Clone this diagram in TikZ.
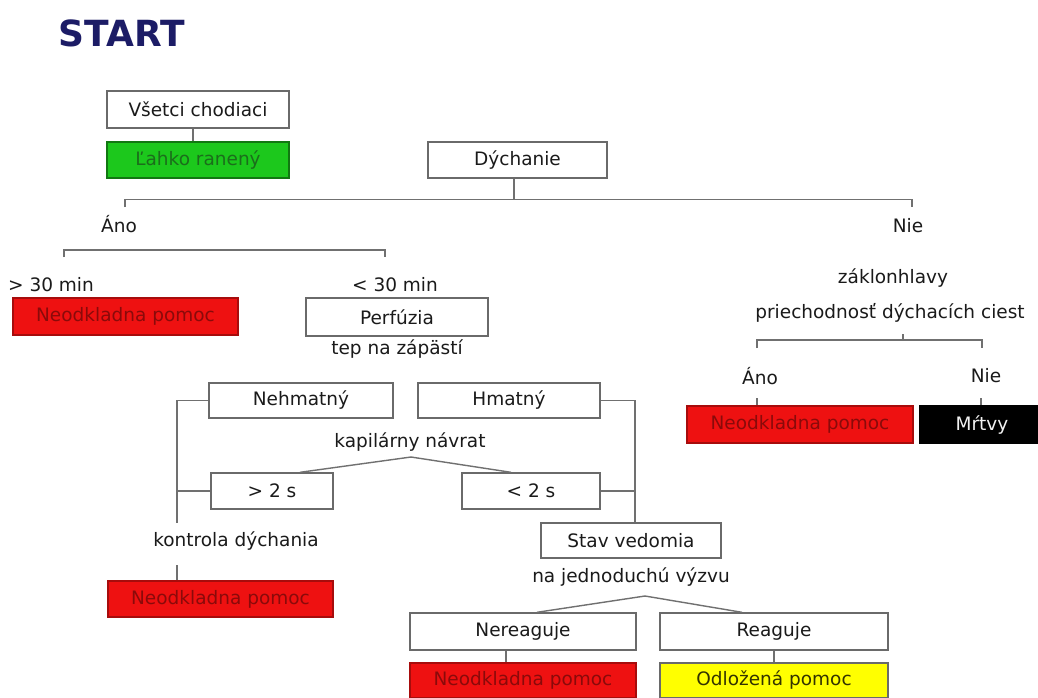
\documentclass[tikz,border=0pt]{standalone}
\usepackage{fontspec}
\setmainfont{DejaVu Sans}
\newcommand\dfont{\fontsize{18.5}{22}\selectfont}
\newcommand\tfont{\fontsize{36}{40}\selectfont\bfseries}
\definecolor{boxgray}{HTML}{6A6A6A}
\definecolor{linegray}{HTML}{707070}
\definecolor{txt}{HTML}{1A1A1A}
\definecolor{navy}{HTML}{1C1C66}
\definecolor{boxred}{HTML}{EE1111}
\definecolor{redtxt}{HTML}{8A0A0A}
\definecolor{boxgreen}{HTML}{1CC81C}
\definecolor{greentxt}{HTML}{1B6E1B}
\definecolor{boxyellow}{HTML}{FFFF00}
\definecolor{yellowtxt}{HTML}{333300}
\tikzset{
  box/.style={draw=boxgray, line width=1.4pt, fill=white, inner sep=0pt, font=\dfont, text=txt},
  redbox/.style={box, fill=boxred, text=redtxt, draw=boxred!70!black},
  greenbox/.style={box, fill=boxgreen, text=greentxt, draw=boxgreen!60!black},
  yellowbox/.style={box, fill=boxyellow, text=yellowtxt, draw=boxgray},
  blackbox/.style={box, fill=black, text=white!90!gray, draw=black},
  lbl/.style={inner sep=0pt, font=\dfont, text=txt},
  conn/.style={draw=linegray, line width=1.4pt},
}
\begin{document}
\begin{tikzpicture}[x=1pt,y=-1pt]
\useasboundingbox[fill=white] (0,0) rectangle (1038,697);

\node[inner sep=0pt, font=\tfont, text=navy] (start) at (122,33) {START};

% top-left
\node[box, minimum width=182, minimum height=37] (vs) at (198,109.5) {Všetci chodiaci};
\node[greenbox, minimum width=182, minimum height=36] (lr) at (198,160) {Ľahko ranený};
\draw[conn] ([xshift=-5pt]vs.south) -- ([xshift=-5pt]lr.north);

% Dychanie
\node[box, minimum width=179, minimum height=36] (dy) at (517.5,160) {Dýchanie};
\node[lbl] (ano1) at (119,224) {Áno};
\node[lbl] (nie1) at (908,226) {Nie};
\coordinate (b1L) at (125,207);
\coordinate (b1R) at (912,207);
\draw[conn] ([xshift=-3.5pt]dy.south) -- ++(0,21.5);
\draw[conn] (b1L) -- ++(0,-7.5) -| (b1R);

% Ano branch
\coordinate (b2L) at (64,257);
\coordinate (b2R) at (385,257);
\draw[conn] (b2L) -- ++(0,-7) -| (b2R);
\node[lbl] (gt30) at (51,285) {> 30 min};
\node[lbl] (lt30) at (395,285) {< 30 min};
\node[redbox, minimum width=225, minimum height=37] (red1) at (125.5,316.5) {Neodkladna pomoc};
\node[box, minimum width=182, minimum height=38] (perf) at (397,317) {Perfúzia};
\node[lbl] (tep) at (397,349) {tep na zápästí};

\node[box, minimum width=184, minimum height=35] (neh) at (301,400.5) {Nehmatný};
\node[box, minimum width=182, minimum height=35] (hm) at (509,400.5) {Hmatný};
\node[lbl] (kap) at (410,442) {kapilárny návrat};
\node[box, minimum width=122, minimum height=36] (gt2) at (272,491) {> 2 s};
\node[box, minimum width=138, minimum height=36] (lt2) at (531,491) {< 2 s};
\coordinate (apex1) at (411,457);
\draw[conn] (gt2.north -| 300,0) -- (apex1) -- (lt2.north -| 511,0);

% left column
\coordinate (lv) at (177,523);
\draw[conn] (neh.west) -| (lv);
\draw[conn] (gt2.west) -- (gt2.west -| lv);
\node[lbl] (kd) at (236,541) {kontrola dýchania};
\node[redbox, minimum width=225, minimum height=36] (red2) at (220.5,599) {Neodkladna pomoc};
\draw[conn] (177,565) -- (red2.north -| 177,0);

% right column
\node[box, minimum width=180, minimum height=35] (stav) at (631,540.5) {Stav vedomia};
\node[lbl] (jed) at (631,577) {na jednoduchú výzvu};
\draw[conn] (hm.east) -| (stav.north -| 635,0);
\draw[conn] (lt2.east) -- (lt2.east -| 635,0);

\node[box, minimum width=226, minimum height=37] (nere) at (523,631.5) {Nereaguje};
\node[box, minimum width=228, minimum height=37] (rea) at (774,631.5) {Reaguje};
\coordinate (apex2) at (645,596);
\draw[conn] (nere.north -| 537,0) -- (apex2) -- (rea.north -| 742,0);
\node[redbox, minimum width=226, minimum height=35] (red4) at (523,680.5) {Neodkladna pomoc};
\node[yellowbox, minimum width=228, minimum height=35] (yel) at (774,680.5) {Odložená pomoc};
\draw[conn] ([xshift=-17pt]nere.south) -- ([xshift=-17pt]red4.north);
\draw[conn] (rea.south) -- (yel.north);

% Nie branch
\node[lbl] (zak) at (893,278) {záklonhlavy};
\node[lbl] (prie) at (890,313) {priechodnosť dýchacích ciest};
\coordinate (b3L) at (757,348);
\coordinate (b3R) at (982,348);
\draw[conn] (b3L) -- ++(0,-8) -| (b3R);
\draw[conn] (903,334) -- (903,340);
\node[lbl] (ano2) at (760,376) {Áno};
\node[lbl] (nie2) at (986,376) {Nie};
\node[redbox, minimum width=226, minimum height=37] (red3) at (800,424.5) {Neodkladna pomoc};
\node[blackbox, minimum width=124, minimum height=37] (mrt) at (982,424.5) {Mŕtvy};
\draw[conn] (757,398) -- (red3.north -| 757,0);
\draw[conn] (981,398) -- (mrt.north -| 981,0);
\end{tikzpicture}
\end{document}
